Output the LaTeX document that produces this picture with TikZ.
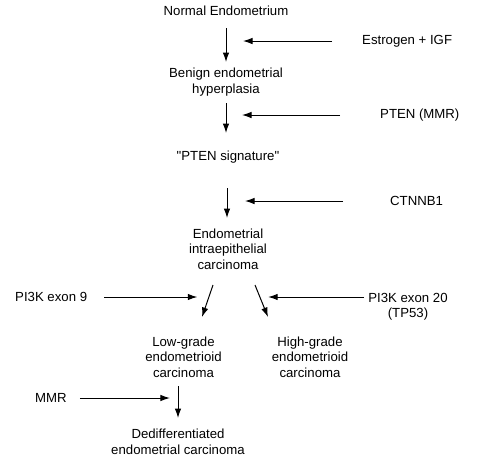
\documentclass[tikz,border=0pt]{standalone}
\usepackage{fontspec}
\newfontfamily\lfont{Liberation Sans}
\usetikzlibrary{arrows.meta}
\begin{document}
\begin{tikzpicture}[x=1pt,y=-1pt,
  lbl/.style={inner sep=0pt, font=\lfont\fontsize{13.2}{15.5}\selectfont, align=center},
  arr/.style={line width=1pt, -{Latex[length=9.5pt,width=6.5pt]}}]
\useasboundingbox[fill=white] (0,0) rectangle (500,459);
% main chain
\node[lbl] (norm) at (226,11) {Normal Endometrium};
\node[lbl] (benign) at (226,82) {Benign endometrial\\hyperplasia};
\node[lbl] (sig) at (228,157) {"PTEN signature"};
\node[lbl] (eic) at (228,249) {Endometrial\\intraepithelial\\carcinoma};
\node[lbl] (low) at (183.5,357) {Low-grade\\endometrioid\\carcinoma};
\node[lbl] (high) at (310,357) {High-grade\\endometrioid\\carcinoma};
\node[lbl] (dedi) at (178,442) {Dedifferentiated\\endometrial carcinoma};
% side labels
\node[lbl, anchor=west] (estro) at (362,41) {Estrogen + IGF};
\node[lbl, anchor=west] (pten) at (380,115) {PTEN (MMR)};
\node[lbl, anchor=west] (ctnnb) at (390,201) {CTNNB1};
\node[lbl] (pi20) at (408,306.5) {PI3K exon 20\\(TP53)};
\node[lbl, anchor=west] (pi9) at (15,297) {PI3K exon 9};
\node[lbl, anchor=west] (mmr) at (35,398) {MMR};
% vertical arrows
\draw[arr] ([shift={(0,17)}]norm.center) -- ([shift={(0,-20)}]benign.center);
\draw[arr] ([shift={(0,21)}]benign.center) -- ([shift={(-2,-24)}]sig.center);
\draw[arr] ([shift={(-1,31)}]sig.center) -- ([shift={(-1,-31)}]eic.center);
\draw[arr] ([shift={(-15,36)}]eic.center) -- ([shift={(18.5,-40)}]low.center);
\draw[arr] ([shift={(27,36)}]eic.center) -- ([shift={(-42,-40)}]high.center);
\draw[arr] ([shift={(-5.5,29)}]low.center) -- ([shift={(0,-24)}]dedi.center);
% side arrows
\draw[arr] ([xshift=-30pt]estro.west) -- ++(-89,0);
\draw[arr] ([xshift=-40pt]pten.west) -- ++(-98,0);
\draw[arr] ([xshift=-47pt]ctnnb.west) -- ++(-98,0);
\draw[arr] ([shift={(-4,-9.5)}]pi20.west) -- ++(-96,0);
\draw[arr] ([xshift=17pt]pi9.east) -- ++(93,0);
\draw[arr] ([xshift=13pt]mmr.east) -- ++(90,0);
\end{tikzpicture}
\end{document}
